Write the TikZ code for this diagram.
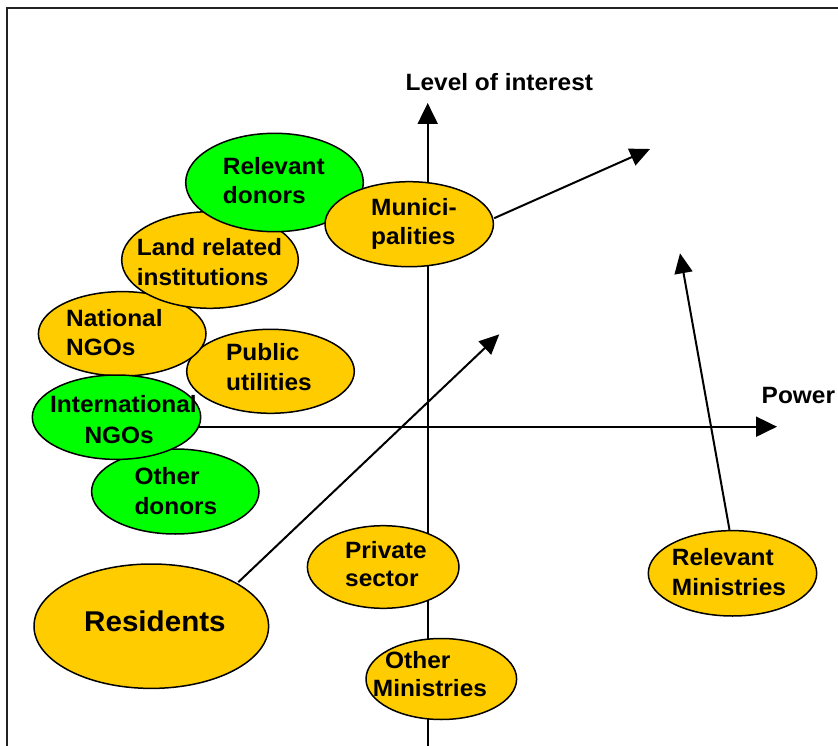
\documentclass[tikz,border=0pt]{standalone}
\usepackage{fontspec}
\setmainfont[FakeStretch=1.035]{Liberation Sans}
\usetikzlibrary{shapes.geometric,arrows.meta}

\definecolor{stakegold}{HTML}{FFCC00}
\definecolor{stakegreen}{HTML}{00FF00}
\definecolor{framegray}{HTML}{222222}

\tikzset{
  blob/.style={ellipse, draw=black, line width=1.5pt, inner sep=0pt},
  goldblob/.style={blob, fill=stakegold},
  greenblob/.style={blob, fill=stakegreen},
  lbl/.style={anchor=base west, inner sep=0pt, font=\bfseries\fontsize{23.6}{28}\selectfont},
  biglbl/.style={lbl, font=\bfseries\fontsize{28.6}{34}\selectfont},
  axis/.style={line width=2pt, -{Triangle[length=21pt,width=20pt]}},
  trend/.style={line width=2pt, -{Triangle[length=20pt,width=18pt]}},
}

\begin{document}
\begin{tikzpicture}[x=1pt,y=-1pt]
\useasboundingbox (0,0) rectangle (838,746);

% outer frame (left and top edges)
\draw[framegray, line width=2pt] (7,746) -- (7,8.3) -- (838,8.3);

% axes
\coordinate (vbot) at (427.7,746);
\coordinate (vtop) at (427.7,103);
\coordinate (hleft) at (150,426.7);
\coordinate (hright) at (777,426.7);
\draw[axis] (vbot) -- (vtop);
\draw[axis] (hleft) -- (hright);
\node[lbl] (ylab) at (405.5,90.7) {Level of interest};
\node[lbl] (xlab) at (761.5,403.3) {Power};

% stakeholder ellipses
\node[goldblob, minimum width=167.6pt, minimum height=84pt] (pu) at (270.5,371.3) {};
\node[goldblob, minimum width=167.6pt, minimum height=84.4pt] (nn) at (122.2,333.8) {};
\node[goldblob, minimum width=176.6pt, minimum height=96.6pt] (lr) at (210,260) {};
\node[greenblob, minimum width=177.6pt, minimum height=98.4pt] (rd) at (274.5,182.5) {};
\node[goldblob, minimum width=168.4pt, minimum height=85pt] (mu) at (409.2,224.2) {};
\node[greenblob, minimum width=167.4pt, minimum height=85pt] (od) at (175.3,491.5) {};
\node[greenblob, minimum width=168.4pt, minimum height=84.4pt] (in) at (116.5,417.2) {};
\node[goldblob, minimum width=234.6pt, minimum height=124.4pt] (re) at (151.3,626.2) {};
\node[goldblob, minimum width=151.6pt, minimum height=82.6pt] (ps) at (383.2,567) {};
\node[goldblob, minimum width=150.6pt, minimum height=81pt] (om) at (441.3,679) {};
\node[goldblob, minimum width=168.4pt, minimum height=85.4pt] (rm) at (732.5,573.3) {};

% labels
\node[lbl] (rd1) at (222.7,175) {Relevant};
\node[lbl] (rd2) at (222.7,204) {donors};
\node[lbl] (lr1) at (136.7,255.7) {Land related};
\node[lbl] (lr2) at (136.7,285.7) {institutions};
\node[lbl] (nn1) at (66,326) {National};
\node[lbl] (nn2) at (66,355) {NGOs};
\node[lbl] (pu1) at (226,360.7) {Public};
\node[lbl] (pu2) at (226,390) {utilities};
\node[lbl] (mu1) at (371,215) {Munici-};
\node[lbl] (mu2) at (371,244) {palities};
\node[lbl] (in1) at (50,412.3) {International};
\node[lbl] (in2) at (84.3,443.3) {NGOs};
\node[lbl] (od1) at (134.3,484) {Other};
\node[lbl] (od2) at (134.3,514) {donors};
\node[biglbl] (re1) at (84,631.7) {Residents};
\node[lbl] (ps1) at (345,558.3) {Private};
\node[lbl] (ps2) at (345,586.7) {sector};
\node[lbl] (om1) at (385,668.3) {Other};
\node[lbl] (om2) at (372.7,696.7) {Ministries};
\node[lbl] (rm1) at (671.7,565) {Relevant};
\node[lbl] (rm2) at (671.7,595) {Ministries};

% expected movements
\coordinate (muto) at (650,149);
\coordinate (reto) at (499.3,334.3);
\coordinate (rmto) at (680,253.3);
\draw[trend] (mu.east) ++(0,-6) -- (muto);
\draw[trend] (re) ++(87,-44) -- (reto);
\draw[trend] (rm.north) ++(-3,0) -- (rmto);
\end{tikzpicture}
\end{document}
